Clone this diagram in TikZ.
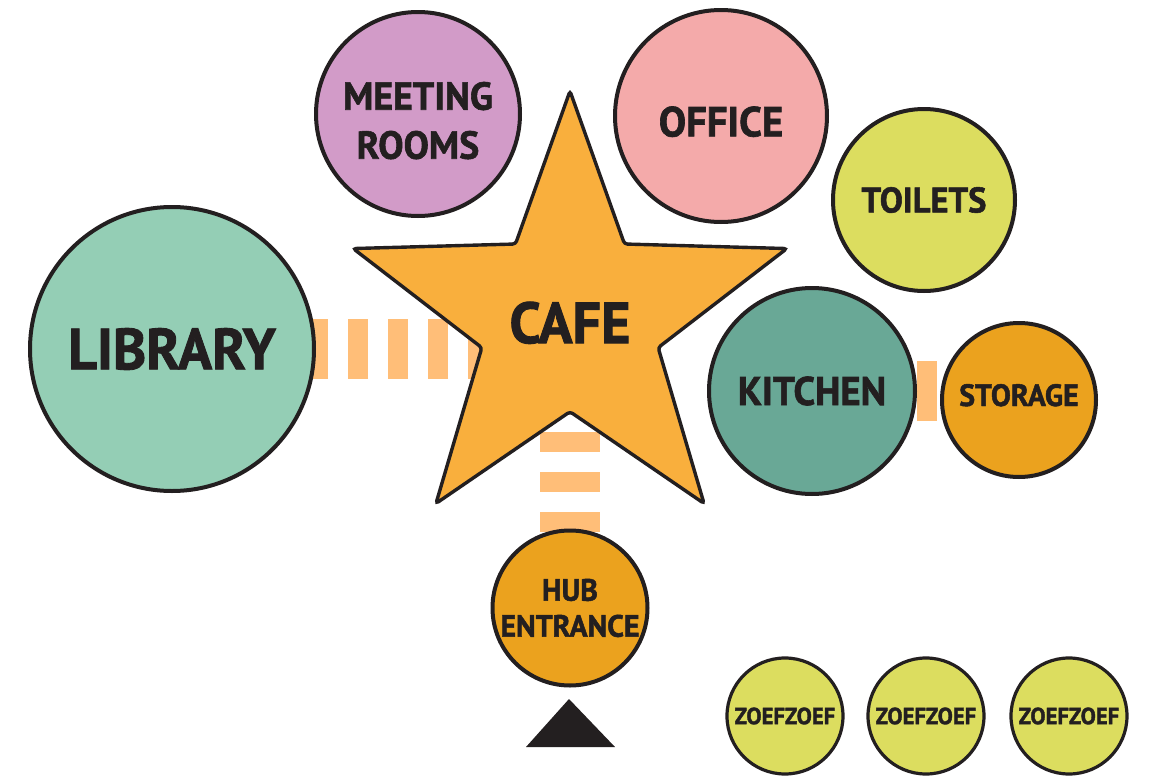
\documentclass[tikz,border=0pt]{standalone}
\usepackage{fontspec}
\usetikzlibrary{shapes.geometric,backgrounds}
\newfontfamily\labelfont{PT Sans}[FakeStretch=0.97,FakeBold=1.5]
\definecolor{ink}{RGB}{35,31,32}
\definecolor{libgreen}{RGB}{148,206,181}
\definecolor{meetpink}{RGB}{210,155,200}
\definecolor{officepink}{RGB}{244,170,170}
\definecolor{lime}{RGB}{220,221,95}
\definecolor{kitchengreen}{RGB}{105,168,150}
\definecolor{amber}{RGB}{235,162,30}
\definecolor{cafeorange}{RGB}{249,175,61}
\definecolor{peach}{RGB}{255,190,120}
\tikzset{
  room/.style={circle, draw=ink, line width=2pt, text=ink, align=center, inner sep=0pt},
  txt/.style 2 args={font=\labelfont\bfseries\fontsize{#1}{#2}\selectfont},
  link/.style={line width=30pt, color=peach, dash pattern=on 10pt off 10pt},
}
\begin{document}
\begin{tikzpicture}[x=0.5pt, y=-0.5pt]
\useasboundingbox (0,0) rectangle (1153,777);
% Stanze
\node[star, star points=5, star point ratio=2.46, inner sep=0pt, minimum size=228pt, fill=cafeorange, draw=ink, line width=1.7pt, rounded corners=1.5pt, text=ink, txt={29}{32}, text height=24.5pt] (cafe) at (570,319) {CAFE};
\node[room, fill=libgreen, minimum size=142pt, txt={29}{32}] (library) at (172,349) {LIBRARY};
\node[room, fill=meetpink, minimum size=102pt, txt={19.5}{24.5}] (meeting) at (418,114) {\rule{0pt}{20.5pt}MEETING\\ROOMS};
\node[room, fill=officepink, minimum size=106pt, txt={21}{24}, text height=20.7pt] (office) at (721,116) {OFFICE};
\node[room, fill=lime, minimum size=91pt, txt={17.8}{22}] (toilets) at (924,200) {TOILETS};
\node[room, fill=kitchengreen, minimum size=103pt, txt={20}{24}] (kitchen) at (812,391) {KITCHEN};
\node[room, fill=amber, minimum size=77pt, txt={15.4}{19}, text depth=5pt] (storage) at (1019,400) {STORAGE};
\node[room, fill=amber, minimum size=77.5pt, txt={15.4}{18}] (hub) at (570,608) {HUB\\ENTRANCE};
% Zoefzoef
\node[room, fill=lime, minimum size=58pt, line width=1.6pt, txt={11.7}{13}] (zoefa) at (785,716) {ZOEFZOEF};
\node[room, fill=lime, minimum size=58pt, line width=1.6pt, txt={11.7}{13}] (zoefb) at (926,716) {ZOEFZOEF};
\node[room, fill=lime, minimum size=58pt, line width=1.6pt, txt={11.7}{13}] (zoefc) at (1069,716) {ZOEFZOEF};
% Ingresso
\fill[ink] (526,747) -- (569,699) -- (615,747) -- cycle;
% Collegamenti
\begin{scope}[on background layer]
\draw[link, dash phase=19pt] (library -| cafe) -- (library.center);
\draw[link, dash phase=3.5pt] (cafe.center) -- (hub.center);
\draw[link, dash pattern=on 0pt off 52.5pt on 10pt off 200pt] (kitchen.center) -- (kitchen -| storage); % un solo tratto
\end{scope}
\end{tikzpicture}
\end{document}
